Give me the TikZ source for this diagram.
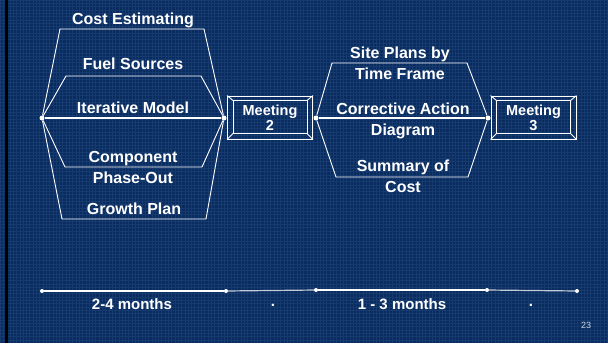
\documentclass[tikz,border=0pt]{standalone}
\usepackage{fontspec}
\setmainfont{Liberation Sans}
\usepackage[HTML]{xcolor}
\usetikzlibrary{positioning, calc}

\definecolor{slidebg}{HTML}{0A2B5D}
\definecolor{slidegrid}{HTML}{163B71}

\tikzset{
  dot/.style={circle, fill=white, inner sep=0pt, minimum size=5pt},
  tdot/.style={circle, fill=white, inner sep=0pt, minimum size=4pt},
  branch/.style={white, line width=0.9pt},
  fadeline/.style={white!75!slidebg, line width=1.2pt},
  lbl/.style={white, font=\fontsize{16}{21}\selectfont\bfseries, align=center, inner sep=0pt},
  spanlbl/.style={white, font=\fontsize{15}{17}\selectfont\bfseries, inner sep=0pt},
  meetbox/.style={draw=white, line width=0.9pt, minimum width=85pt, minimum height=43pt,
    inner sep=0pt, text=white, align=center, font=\fontsize{14.5}{15}\selectfont\bfseries},
}

\begin{document}
\begin{tikzpicture}[x=1pt, y=-1pt]
\useasboundingbox (0,0) rectangle (608,343);

% --- Slide background ---
\fill[slidebg] (0,0) rectangle (608,343);
\draw[slidegrid, line width=0.45pt, step=3.3pt] (0,0) grid (608,343);
\fill[black] (5,0) rectangle (7.5,343);

% --- First phase (to meeting 2) ---
\node[dot] (lsrc) at (42,118) {};
\node[dot] (lsnk) at (224,118) {};
\draw[branch, line width=1.2pt] (lsrc) -- (lsnk);
\draw[branch] (lsrc) -- ++(18,-89) -- ++(144,0) -- (lsnk);
\draw[branch] (lsrc) -- ++(24,-42) -- ++(135,0) -- (lsnk);
\draw[branch] (lsrc) -- ++(23,49) -- ++(137,0) -- (lsnk);
\draw[branch] (lsrc) -- ++(20,101) -- ++(144,0) -- (lsnk);

\node[lbl] (lblCost) at (133,20) {Cost Estimating};
\node[lbl] (lblFuel) at (133,64) {Fuel Sources};
\node[lbl] (lblIter) at (133,108) {Iterative Model};
\node[lbl] (lblComp) at (133,167) {Component\\Phase-Out};
\node[lbl] (lblGrowth) at (134,209) {Growth Plan};

% --- Second phase (to meeting 3) ---
\node[dot] (rsrc) at (316,118) {};
\node[dot] (rsnk) at (488,118) {};
\draw[branch, line width=1.2pt] (rsrc) -- (rsnk);
\draw[branch] (rsrc) -- ++(16,-55) -- ++(135,0) -- (rsnk);
\draw[branch] (rsrc) -- ++(20,59) -- ++(132,0) -- (rsnk);

\node[lbl] (lblSite) at (400,63.5) {Site Plans by\\Time Frame};
\node[lbl] (lblCorr) at (403,120.5) {Corrective Action\\Diagram};
\node[lbl] (lblSumm) at (403,176.5) {Summary of\\Cost};

% --- Meetings ---
\node[meetbox] (meet2) at (270,117.5) {Meeting\\2};
\node[meetbox] (meet3) at (533.5,117.5) {Meeting\\3};
\foreach \m in {meet2, meet3} {
  \draw[branch] ($(\m.north west)+(6,5)$) rectangle ($(\m.south east)+(-6,-6)$);
  \foreach \c/\dx/\dy in {north west/6/5, north east/-6/5, south west/6/-6, south east/-6/-6}
    \draw[branch] (\m.\c) -- ++(\dx,\dy);
}

% --- Time line ---
\node[tdot] (t0) at (42,291) {};
\node[tdot] (t1) at (226,291) {};
\node[tdot] (t2) at (316,290) {};
\node[tdot] (t3) at (487,290) {};
\node[tdot] (t4) at (577,291) {};
\draw[branch, line width=1.2pt] (t0) -- (t1);
\draw[fadeline] (t1) -- (t2);
\draw[branch, line width=1.2pt] (t2) -- (t3);
\draw[fadeline] (t3) -- (t4);

\node[spanlbl] (lblSpanA) at (132,304) {2-4 months};
\node[spanlbl] (lblGapA) at (273,305) {.};
\node[spanlbl] (lblSpanB) at (402,304) {1 - 3 months};
\node[spanlbl] (lblGapB) at (531,305) {.};
\node[white!80!slidebg, font=\fontsize{9}{10}\selectfont, inner sep=0pt] (lblPage) at (586,325) {23};
\end{tikzpicture}
\end{document}
